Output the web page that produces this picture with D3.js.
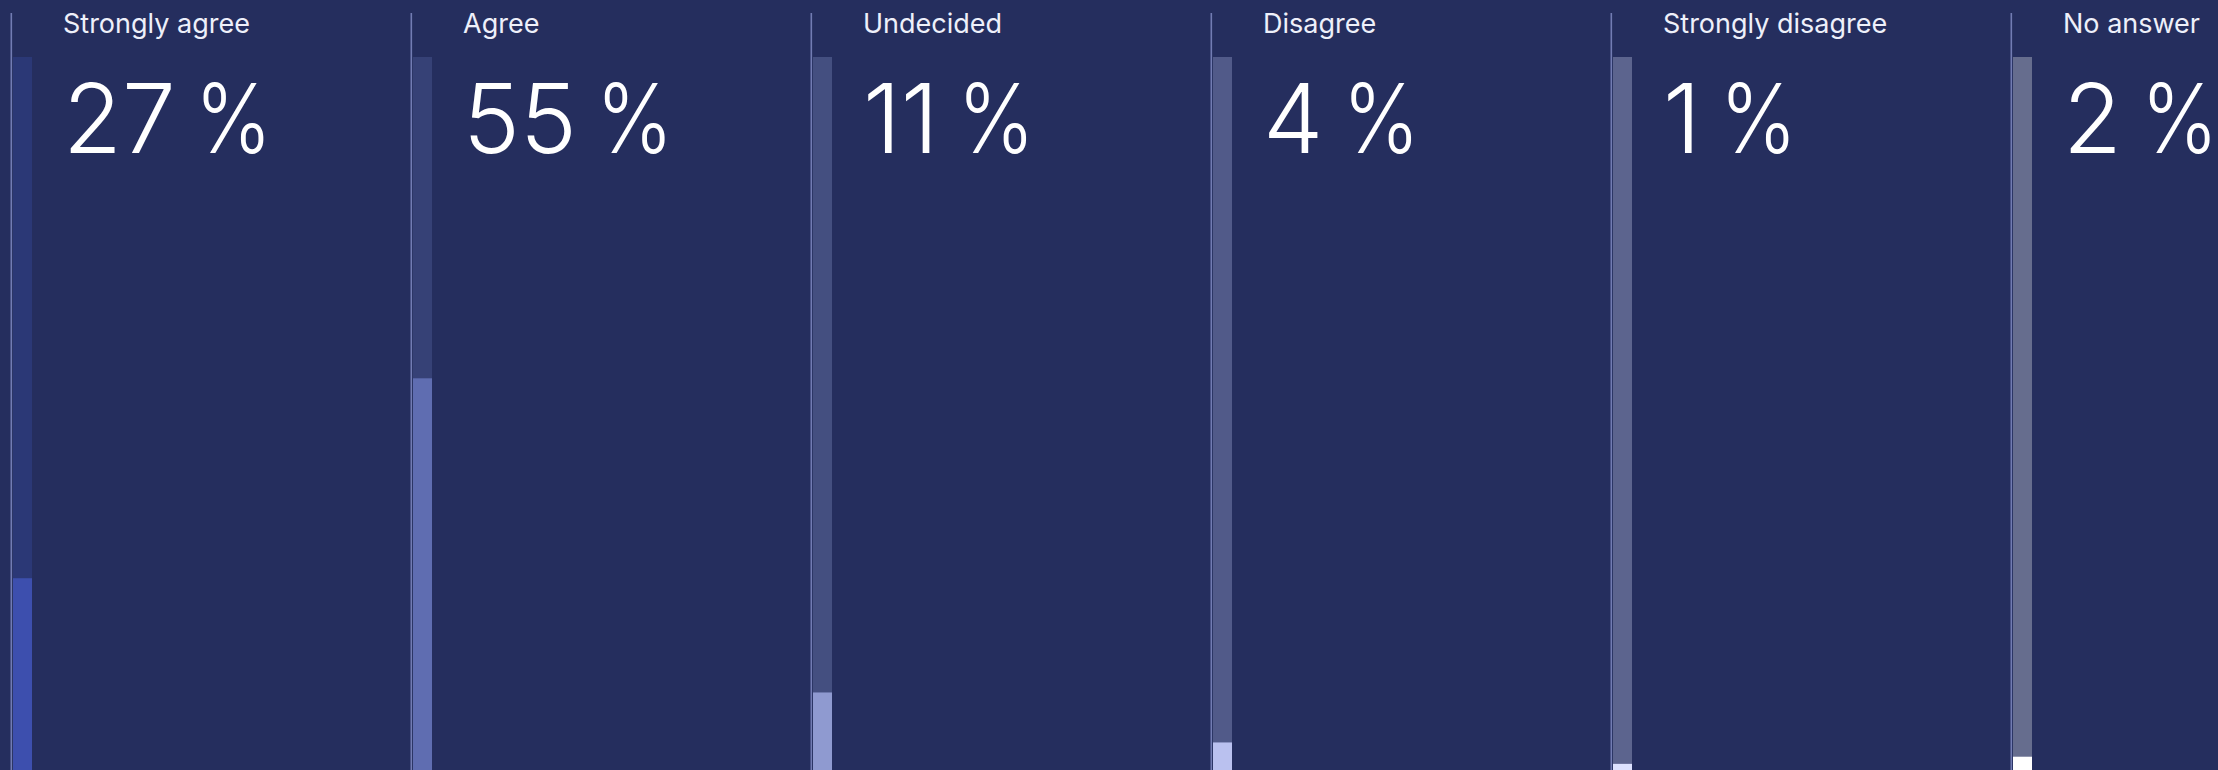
<!DOCTYPE html>
<html>
<head>
<meta charset="utf-8">
<script src="https://cdn.jsdelivr.net/npm/d3@7"></script>
<style>
  html, body { margin: 0; padding: 0; background: #252e5e; overflow: hidden; }
  svg { display: block; }
</style>
</head>
<body>
<svg id="chart" width="2218" height="770"></svg>
<script>
const categories = ["Strongly agree", "Agree", "Undecided", "Disagree", "Strongly disagree", "No answer"];
const values = [27, 55, 11, 4, 1, 2];
const valueNumbers = ["27", "55", "11", "4", "1", "2"];
const unitLabel = "%";
const fillColors = ["#3d4fae", "#5f6db1", "#8f9ad0", "#bac1ef", "#dde2ff", "#ffffff"];

const W = 2218, H = 770;
const svg = d3.select("#chart");

svg.append("rect").attr("width", W).attr("height", H).attr("fill", "#252e5e");

const x = d3.scaleBand().domain(categories).range([12, 12 + 400 * categories.length]).paddingInner(0).paddingOuter(0);
const y = d3.scaleLinear().domain([0, 100]).range([771, 57]);

const barW = 19;
const data = categories.map((c, i) => ({ c, v: values[i], num: valueNumbers[i], color: fillColors[i] }));

const g = svg.selectAll("g.panel").data(data).enter().append("g")
  .attr("class", "panel")
  .attr("transform", d => `translate(${x(d.c)},0)`);

// thin divider line
g.append("rect")
  .attr("x", -1.5).attr("y", 13)
  .attr("width", 1.6).attr("height", H - 13)
  .attr("fill", "#8089c2").attr("opacity", 0.85);

// track
g.append("rect")
  .attr("x", 1).attr("y", y(100))
  .attr("width", barW).attr("height", y(0) - y(100))
  .attr("fill", d => d.color).attr("opacity", 0.3);

// value fill
g.append("rect")
  .attr("x", 1).attr("y", d => y(d.v))
  .attr("width", barW).attr("height", d => y(0) - y(d.v))
  .attr("fill", d => d.color);

// category label
g.append("text")
  .attr("x", 51).attr("y", 33)
  .attr("font-family", "Inter, 'Noto Sans', sans-serif")
  .attr("font-size", 27)
  .attr("font-weight", 400)
  .attr("fill", "#eef0fa")
  .text(d => d.c);

// big value
const vt = g.append("text")
  .attr("x", 51).attr("y", 153)
  .attr("font-family", "Inter, 'Noto Sans', sans-serif")
  .attr("font-size", 96)
  .attr("font-weight", 300)
  .attr("word-spacing", "-8px")
  .attr("fill", "#ffffff");
vt.append("tspan").text(d => d.num + " ");
vt.append("tspan").text(unitLabel)
  .each(function() {
    const len = this.getComputedTextLength();
    d3.select(this).attr("textLength", len * 0.86).attr("lengthAdjust", "spacingAndGlyphs");
  });
</script>
</body>
</html>
